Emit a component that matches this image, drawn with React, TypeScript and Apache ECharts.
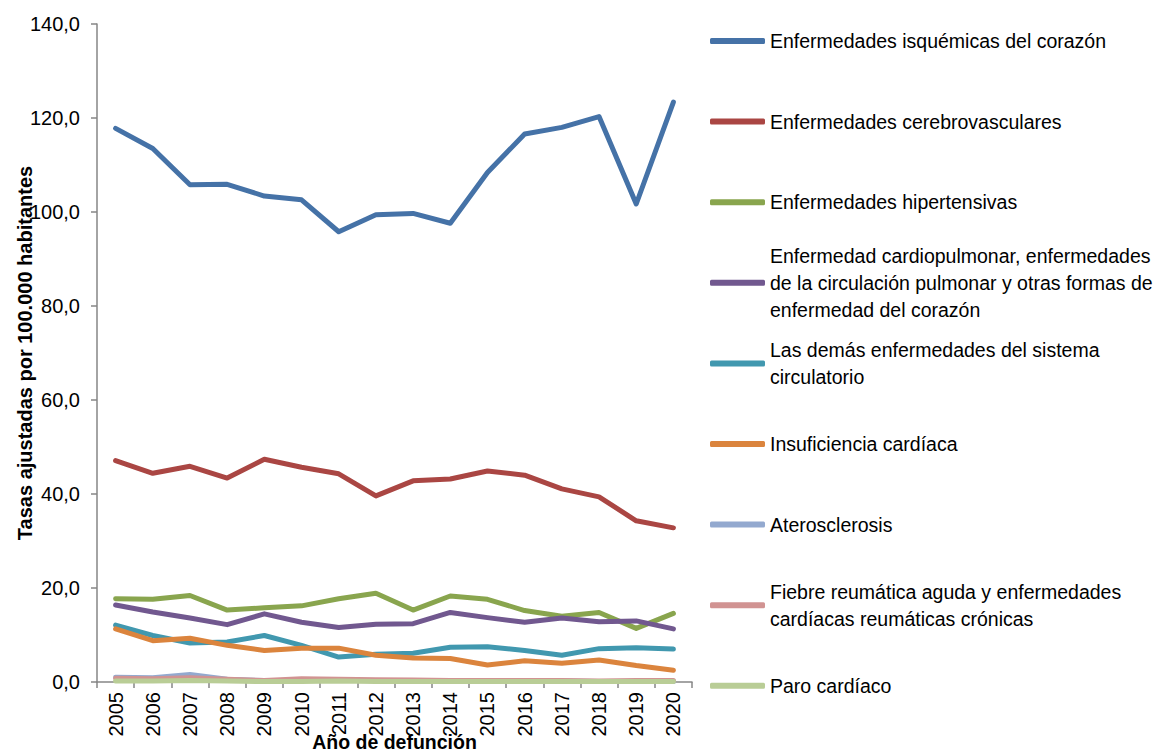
import React, { useEffect, useRef } from "react";
import * as echarts from "echarts";

const years = ["2005","2006","2007","2008","2009","2010","2011","2012","2013","2014","2015","2016","2017","2018","2019","2020"];

const isquemicas = [117.8,113.5,105.8,105.9,103.4,102.6,95.8,99.4,99.7,97.6,108.4,116.6,118.0,120.3,101.7,123.4];
const cerebrovasculares = [47.1,44.4,45.9,43.4,47.4,45.7,44.3,39.6,42.8,43.2,44.9,44.0,41.1,39.4,34.3,32.8];
const hipertensivas = [17.7,17.6,18.4,15.3,15.8,16.2,17.7,18.9,15.3,18.3,17.6,15.2,14.0,14.8,11.4,14.6];
const cardiopulmonar = [16.4,14.9,13.6,12.2,14.5,12.7,11.6,12.3,12.4,14.8,13.7,12.7,13.6,12.8,13.0,11.3];
const demasCirc = [12.1,9.9,8.3,8.5,9.9,7.8,5.3,5.9,6.1,7.4,7.5,6.7,5.7,7.1,7.3,7.0];
const insuficiencia = [11.3,8.8,9.3,7.8,6.7,7.2,7.2,5.7,5.1,5.0,3.6,4.5,4.0,4.7,3.5,2.5];
const aterosclerosis = [1.0,0.9,1.6,0.6,0.3,0.3,0.4,0.3,0.3,0.2,0.3,0.2,0.2,0.1,0.1,0.1];
const fiebreReumatica = [0.8,0.7,0.9,0.6,0.3,0.7,0.6,0.5,0.4,0.3,0.3,0.3,0.3,0.2,0.3,0.3];
const paroCardiaco = [0.2,0.2,0.3,0.2,0.1,0.1,0.2,0.1,0.1,0.1,0.1,0.1,0.1,0.1,0.1,0.1];

const seriesNames = [
  "Enfermedades isquémicas del corazón",
  "Enfermedades cerebrovasculares",
  "Enfermedades hipertensivas",
  "Enfermedad cardiopulmonar, enfermedades\nde la circulación pulmonar y otras formas de\nenfermedad del corazón",
  "Las demás enfermedades del sistema\ncirculatorio",
  "Insuficiencia cardíaca",
  "Aterosclerosis",
  "Fiebre reumática aguda y enfermedades\ncardíacas reumáticas crónicas",
  "Paro cardíaco",
];
const seriesData = [isquemicas, cerebrovasculares, hipertensivas, cardiopulmonar, demasCirc, insuficiencia, aterosclerosis, fiebreReumatica, paroCardiaco];
const colors = ["#4572A7","#AA4643","#89A54E","#71588F","#4198AF","#DB843D","#93A9CF","#D19392","#B9CD96"];

const FONT = "'Liberation Sans Narrow', 'Arial Narrow', 'Liberation Sans', Arial, sans-serif";

export default function App() {
  const ref = useRef<HTMLDivElement>(null);
  useEffect(() => {
    if (!ref.current) return;
    const chart = echarts.init(ref.current, null, { renderer: "svg" });
    const lineH = 27;
    const iconY0 = 41;
    const iconStep = 80.6;
    const legends = seriesNames.map((name, i) => {
      const n = name.split("\n").length;
      const iconY = iconY0 + i * iconStep;
      return {
        data: [name],
        orient: "vertical",
        left: 710,
        top: iconY - ((2 * n - 1) * lineH) / 2,
        padding: 0,
        icon: "roundRect",
        itemWidth: 55,
        itemHeight: 6,
        selectedMode: false,
        textStyle: {
          fontFamily: FONT,
          fontSize: 19.5,
          color: "#000",
          lineHeight: lineH,
          padding: [(n - 1) * lineH, 0, 0, 0],
        },
      };
    });
    chart.setOption({
      animation: false,
      textStyle: { fontFamily: FONT },
      legend: legends,
      grid: { left: 97, right: 464, top: 24, bottom: 74, containLabel: false, outerBoundsMode: "none" },
      xAxis: {
        type: "category",
        data: years,
        boundaryGap: true,
        name: "Año de defunción",
        nameLocation: "middle",
        nameGap: 50,
        nameMoveOverlap: false,
        nameTextStyle: { fontFamily: FONT, fontSize: 19.5, fontWeight: "bold", color: "#000" },
        axisLine: { lineStyle: { color: "#868686", width: 1.5 } },
        axisTick: { show: true, length: 6, alignWithLabel: false, lineStyle: { color: "#868686", width: 1.5 } },
        axisLabel: { rotate: 90, fontFamily: FONT, fontSize: 20, color: "#000", margin: 10, interval: 0 },
        splitLine: { show: false },
      },
      yAxis: {
        type: "value",
        min: 0,
        max: 140,
        interval: 20,
        name: "Tasas ajustadas por 100.000 habitantes",
        nameLocation: "middle",
        nameGap: 62,
        nameMoveOverlap: false,
        nameRotate: 90,
        nameTextStyle: { fontFamily: FONT, fontSize: 20, fontWeight: "bold", color: "#000" },
        axisLine: { show: true, lineStyle: { color: "#868686", width: 1.5 } },
        axisTick: { show: true, length: 6, lineStyle: { color: "#868686", width: 1.5 } },
        axisLabel: {
          fontFamily: FONT,
          fontSize: 20,
          color: "#000",
          margin: 17,
          formatter: (v: number) => v.toFixed(1).replace(".", ","),
        },
        splitLine: { show: false },
      },
      series: seriesNames.map((name, i) => ({
        name,
        type: "line",
        data: seriesData[i],
        symbol: "none",
        color: colors[i],
        lineStyle: { width: 5, color: colors[i], cap: "round", join: "round" },
        z: 2 + i,
      })),
    });
    return () => chart.dispose();
  }, []);
  return <div ref={ref} style={{ width: 1156, height: 756, position: "absolute", left: 0, top: 0 }} />;
}
